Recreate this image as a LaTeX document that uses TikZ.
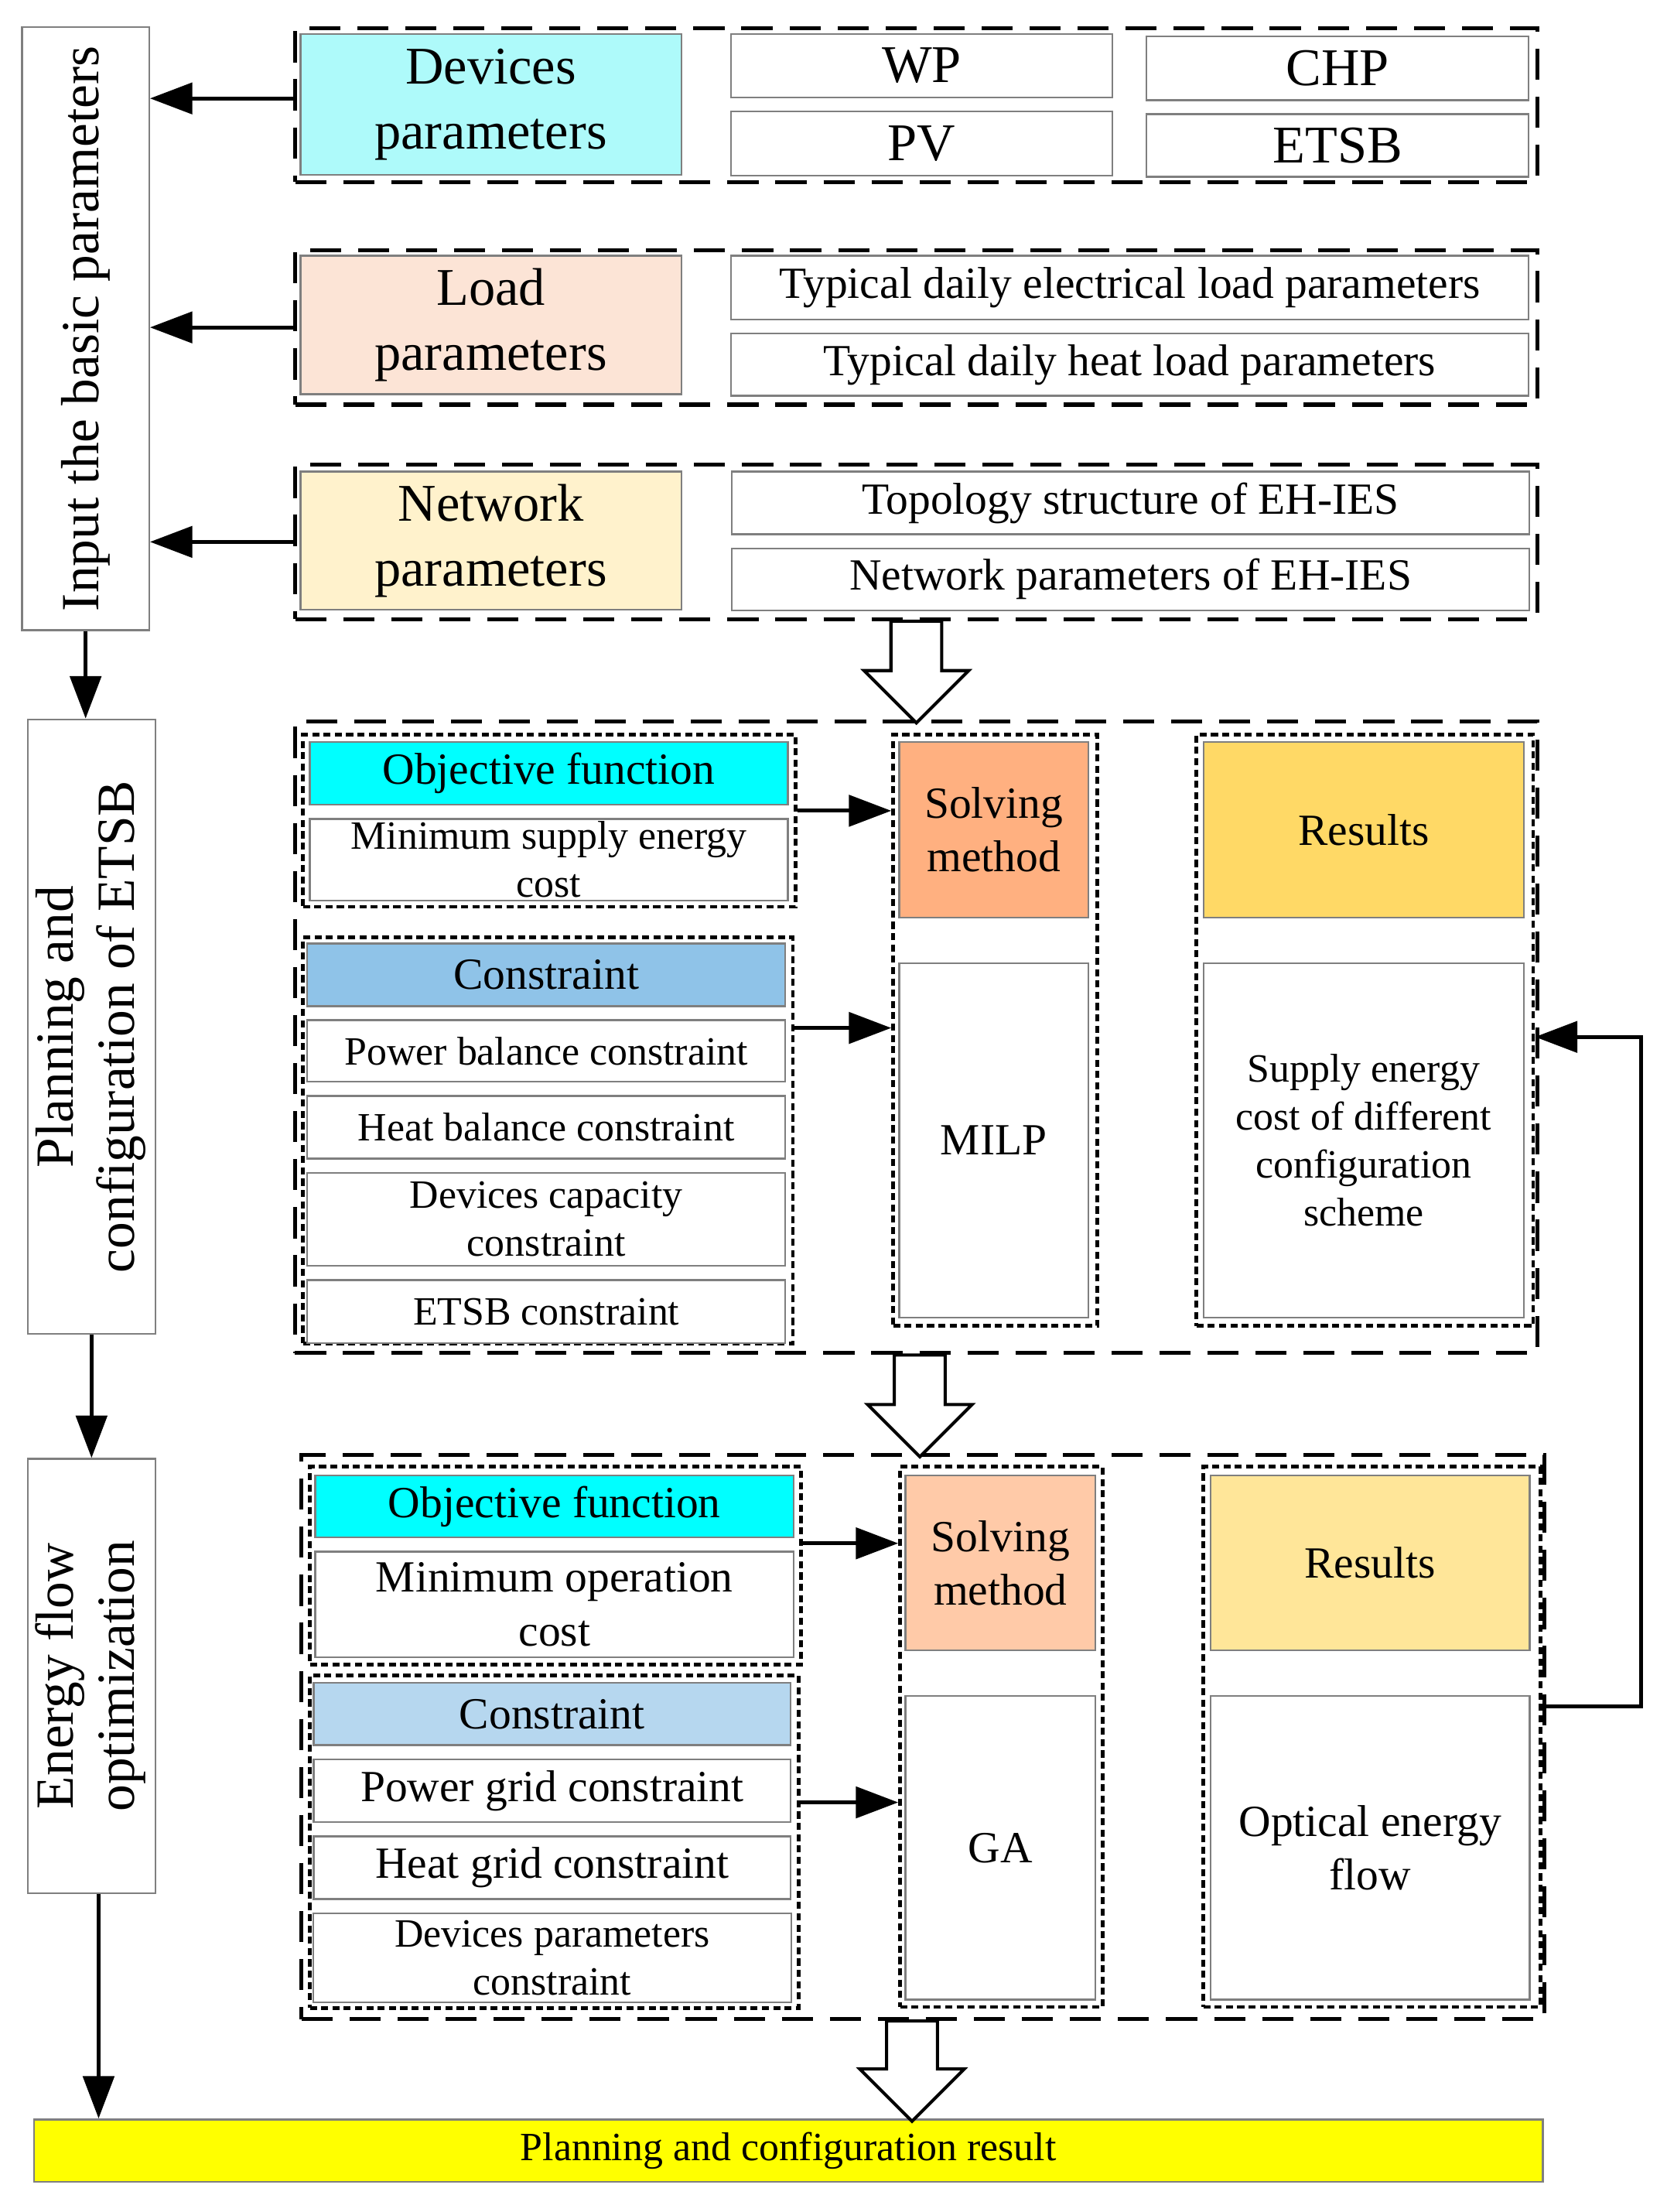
\documentclass[tikz,border=0pt]{standalone}
\usepackage{fontspec}
\setmainfont{Liberation Serif}
\usepackage{graphicx}
\usetikzlibrary{arrows.meta, positioning}

\definecolor{boxgray}{HTML}{7F7F7F}
\definecolor{devcol}{HTML}{AEFAFA}
\definecolor{loadcol}{HTML}{FCE4D6}
\definecolor{netcol}{HTML}{FFF2CC}
\definecolor{objcol}{HTML}{00FFFF}
\definecolor{concol}{HTML}{8FC3E8}
\definecolor{concolb}{HTML}{B6D7EF}
\definecolor{solcol}{HTML}{FFB080}
\definecolor{solcolb}{HTML}{FFCAA8}
\definecolor{rescol}{HTML}{FFD966}
\definecolor{rescolb}{HTML}{FFE699}
\definecolor{barcol}{HTML}{FFFF00}

\newcommand{\fbig}{\fontsize{37.5}{46}\selectfont}
\newcommand{\fmid}{\fontsize{31.5}{38}\selectfont}
\newcommand{\fsml}{\fontsize{28.4}{34}\selectfont}
\newcommand{\fside}{\fontsize{38}{43}\selectfont}

\begin{document}
\begin{tikzpicture}[
            > = {Triangle[length=30pt,width=22pt]}, % arrow head style
            x = 1pt, y = -1pt, % pixel units, y runs downwards
            node distance = 8.7pt, % gap between stacked boxes
            line width = 2.7pt % line style
        ]

        \tikzstyle{box}=[
            draw = boxgray,
            line width = 1.3pt,
            fill = white,
            inner sep = 0pt,
            anchor = north west,
            align = center,
            font = \fmid
        ]
        \tikzstyle{grp}=[draw = black, line width = 2.8pt, dash pattern = on 22pt off 12pt, inner sep = 0pt, anchor = north west]
        \tikzstyle{dotgrp}=[draw = black, line width = 2.6pt, dash pattern = on 5pt off 3pt, inner sep = 0pt, anchor = north west]
        \tikzstyle{hollow}=[draw = black, line width = 2.2pt, fill = white, line join = miter]

        \useasboundingbox (0,0) rectangle (1180,1565.5);

        % left column
        \node[box, minimum width=89.9pt, minimum height=426.8pt] (inpar) at (15,18.6) {\rotatebox{90}{\fside Input the basic parameters}};
        \node[box, minimum width=90.5pt, minimum height=435pt] (plan) at (18.9,508.5) {\rotatebox{90}{\fside\begin{tabular}{@{}c@{}}Planning and\\configuration of ETSB\end{tabular}}};
        \node[box, minimum width=90.5pt, minimum height=307.4pt] (eflow) at (18.9,1031.8) {\rotatebox{90}{\fside\begin{tabular}{@{}c@{}}Energy flow\\optimization\end{tabular}}};

        % devices
        \node[grp, minimum width=879.5pt, minimum height=108.9pt] (devgrp) at (207.5,18.6) {};
        \node[box, minimum width=269.6pt, minimum height=99.7pt, fill = devcol, font = \fbig] (devpar) at (212,23.5) {Devices\\parameters};
        \node[box, minimum width=270pt, minimum height=44.7pt, font = \fbig] (wp) at (516.7,23.5) {WP};
        \node[box, minimum width=270pt, minimum height=45.3pt, font = \fbig, below=of wp] (pv) {PV};
        \node[box, minimum width=270.4pt, minimum height=45pt, font = \fbig] (chp) at (811,25.2) {CHP};
        \node[box, minimum width=270.4pt, minimum height=44.3pt, font = \fbig, below=of chp] (etsb) {ETSB};

        % loads
        \node[grp, minimum width=879.5pt, minimum height=109.4pt] (loadgrp) at (207.5,175.6) {};
        \node[box, minimum width=269.6pt, minimum height=98pt, fill = loadcol, font = \fbig] (loadpar) at (212,180.4) {Load\\parameters};
        \node[box, minimum width=564.7pt, minimum height=45pt] (eload) at (516.7,180.4) {Typical daily electrical load parameters};
        \node[box, minimum width=564.7pt, minimum height=44.1pt, below=of eload] (hload) {Typical daily heat load parameters};

        % network
        \node[grp, minimum width=879.5pt, minimum height=109.4pt] (netgrp) at (207.5,327.4) {};
        \node[box, minimum width=269.6pt, minimum height=97.9pt, fill = netcol, font = \fbig] (netpar) at (212,333.1) {Network\\parameters};
        \node[box, minimum width=564.3pt, minimum height=44.4pt] (topo) at (517.5,333.1) {Topology structure of EH-IES};
        \node[box, minimum width=564.3pt, minimum height=43.8pt, below=of topo] (netes) {Network parameters of EH-IES};

        % planning and configuration
        \node[grp, minimum width=879.6pt, minimum height=447pt] (plangrp) at (207.4,509.2) {};
        \node[dotgrp, minimum width=348.9pt, minimum height=121.8pt] (objgrp) at (213.1,518.6) {};
        \node[box, minimum width=338.3pt, minimum height=44.6pt, fill = objcol] (obj) at (218.7,524.3) {Objective function};
        \node[box, minimum width=338.3pt, minimum height=57.7pt, font = \fsml, below=of obj] (minsup) {Minimum supply energy\\cost};
        \node[dotgrp, minimum width=346.9pt, minimum height=287.4pt] (congrp) at (213.1,662.1) {};
        \node[box, minimum width=338.3pt, minimum height=44.3pt, fill = concol] (con) at (216.9,667.1) {Constraint};
        \node[box, minimum width=338.3pt, minimum height=43.6pt, font = \fsml, below=of con] (pbc) {Power balance constraint};
        \node[box, minimum width=338.3pt, minimum height=44.3pt, font = \fsml, below=of pbc] (hbc) {Heat balance constraint};
        \node[box, minimum width=338.3pt, minimum height=66pt, font = \fsml, below=of hbc] (dcc) {Devices capacity\\constraint};
        \node[box, minimum width=338.3pt, minimum height=44.7pt, font = \fsml, below=of dcc] (etsbc) {ETSB constraint};
        \node[dotgrp, minimum width=144.5pt, minimum height=418.5pt] (solgrp) at (630.9,518.6) {};
        \node[box, minimum width=134pt, minimum height=124.1pt, fill = solcol] (sol) at (635.8,524.6) {Solving\\method};
        \node[box, minimum width=134pt, minimum height=250.8pt, below=31pt of sol] (milp) {MILP};
        \node[dotgrp, minimum width=238.4pt, minimum height=418.5pt] (resgrp) at (845.6,518.6) {};
        \node[box, minimum width=226.7pt, minimum height=124.1pt, fill = rescol] (res) at (851.3,524.6) {Results};
        \node[box, minimum width=226.7pt, minimum height=250.8pt, font = \fsml, below=31pt of res] (supcost) {Supply energy\\cost of different\\configuration\\scheme};

        % energy flow optimization
        \node[grp, minimum width=880pt, minimum height=399.2pt] (optgrp) at (212,1028.3) {};
        \node[dotgrp, minimum width=347.7pt, minimum height=140.1pt] (objgrp2) at (218,1036.8) {};
        \node[box, minimum width=338.7pt, minimum height=43.8pt, fill = objcol] (obj2) at (222.5,1043.7) {Objective function};
        \node[box, minimum width=338.7pt, minimum height=74.8pt, below=of obj2] (minop) {Minimum operation\\cost};
        \node[dotgrp, minimum width=346pt, minimum height=235.2pt] (congrp2) at (218,1184.6) {};
        \node[box, minimum width=337.6pt, minimum height=44.1pt, fill = concolb] (con2) at (221.4,1190.3) {Constraint};
        \node[box, minimum width=337.6pt, minimum height=44.5pt, below=of con2] (pgc) {Power grid constraint};
        \node[box, minimum width=337.6pt, minimum height=44.5pt, below=of pgc] (hgc) {Heat grid constraint};
        \node[box, minimum width=338.5pt, minimum height=62.9pt, font = \fsml, below=of hgc] (dpc) {Devices parameters\\constraint};
        \node[dotgrp, minimum width=143.4pt, minimum height=382.3pt] (solgrp2) at (635.8,1036.8) {};
        \node[box, minimum width=134.4pt, minimum height=123.6pt, fill = solcolb] (sol2) at (640.3,1043.7) {Solving\\method};
        \node[box, minimum width=134.4pt, minimum height=215pt, below=31pt of sol2] (ga) {GA};
        \node[dotgrp, minimum width=238.5pt, minimum height=382.3pt] (resgrp2) at (850.5,1036.8) {};
        \node[box, minimum width=226pt, minimum height=123.6pt, fill = rescolb] (res2) at (856.2,1043.7) {Results};
        \node[box, minimum width=226pt, minimum height=215pt, below=31pt of res2] (optflow) {Optical energy\\flow};

        \node[box, minimum width=1068.1pt, minimum height=44.1pt, fill = barcol, font = \fsml] (result) at (23.4,1499.3) {Planning and configuration result};

        % arrows
        \draw[->] ([yshift=4.8pt]devgrp.west) -- ([yshift=4.8pt]devgrp.west -| inpar.east);
        \draw[->] (loadgrp.west) -- (loadgrp.west -| inpar.east);
        \draw[->] (netgrp.west) -- (netgrp.west -| inpar.east);
        \draw[->] (inpar.south) -- (inpar.south |- plan.north);
        \draw[->] (plan.south) -- (plan.south |- eflow.north);
        \draw[->] ([xshift=5pt]eflow.south) -- ([xshift=5pt]eflow.south |- result.north);
        \draw[->] ([yshift=7pt]objgrp.east) -- ([yshift=7pt]objgrp.east -| solgrp.west);
        \draw[->] ([yshift=79.6pt]congrp.east) -- ([yshift=79.6pt]congrp.east -| solgrp.west);
        \draw[->] ([yshift=15.9pt]objgrp2.east) -- ([yshift=15.9pt]objgrp2.east -| solgrp2.west);
        \draw[->] ([yshift=27.9pt]congrp2.east) -- ([yshift=27.9pt]congrp2.east -| solgrp2.west);
        \draw[->] ([yshift=21.5pt]resgrp2.east) -- ++(70,0) |- ([yshift=-4.7pt]resgrp.east);

        % hollow arrows between stages
        \draw[hollow] (netgrp.south) ++(-18,0) -- ++(0,35) -- ++(-19,0) -- ++(37,37) -- ++(37,-37) -- ++(-19,0) -- ++(0,-35) -- cycle;
        \draw[hollow] ([xshift=2.5pt]plangrp.south) ++(-18,0) -- ++(0,35) -- ++(-19,0) -- ++(37,37) -- ++(37,-37) -- ++(-19,0) -- ++(0,-35) -- cycle;
        \draw[hollow] ([xshift=-7.8pt]optgrp.south) ++(-18,0) -- ++(0,34) -- ++(-19,0) -- ++(37,37) -- ++(37,-37) -- ++(-19,0) -- ++(0,-34) -- cycle;

\end{tikzpicture}
\end{document}
